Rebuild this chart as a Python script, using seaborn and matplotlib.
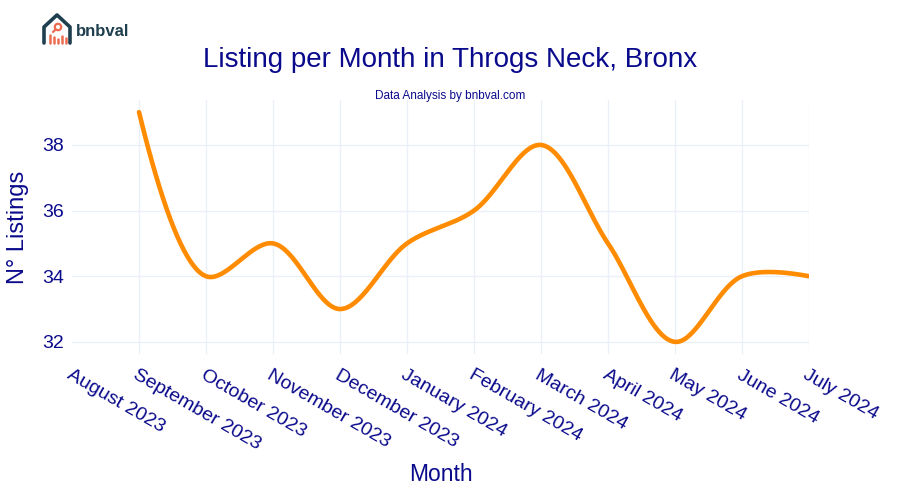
import numpy as np
import pandas as pd
import matplotlib
matplotlib.use("Agg")
import matplotlib.pyplot as plt
import seaborn as sns

# data (August has no point)
months = ["August 2023", "September 2023", "October 2023", "November 2023",
          "December 2023", "January 2024", "February 2024", "March 2024",
          "April 2024", "May 2024", "June 2024", "July 2024"]
listings = [np.nan, 39, 34, 35, 33, 35, 36, 38, 35, 32, 34, 34]

sns.set_theme(style="white")
plt.rcParams['font.family'] = ['Liberation Sans', 'DejaVu Sans']

navy = "#0a0a8c"
orange = "#ff8c00"
grid = "#ebf0f8"

fig = plt.figure(figsize=(9, 5), dpi=100)
ax = fig.add_axes([72 / 900, 1 - 354 / 500, 737 / 900, 254 / 500])

ax.set_xlim(0, len(months) - 1)
ax.set_ylim(31.63, 39.37)
ax.set_xticks(range(len(months)))
ax.set_xticklabels(months, rotation=-30, ha="left", va="top",
                   rotation_mode="anchor", fontsize=14, color=navy)
ax.set_yticks([32, 34, 36, 38])
ax.tick_params(axis="y", labelsize=14, labelcolor=navy, pad=6, length=0)
ax.tick_params(axis="x", pad=9, length=0)
ax.grid(True, color=grid, linewidth=1)
ax.get_xgridlines()[0].set_visible(False)
for s in ax.spines.values():
    s.set_visible(False)


# plotly-style spline through the points, computed in pixel space
def tangent(p0, p1, p2, s=1.0):
    d1 = p0 - p1
    d2 = p2 - p1
    d1a = np.hypot(*d1) ** 0.5
    d2a = np.hypot(*d2) ** 0.5
    num = (d2a ** 2 * d1 - d1a ** 2 * d2) * s
    den1 = 3 * d2a * (d1a + d2a)
    den2 = 3 * d1a * (d1a + d2a)
    return p1 + num / den1, p1 - num / den2


def bez(ctrl, n=40):
    t = np.linspace(0, 1, n)[:, None]
    if len(ctrl) == 3:
        a, b, c = ctrl
        return (1 - t) ** 2 * a + 2 * (1 - t) * t * b + t ** 2 * c
    a, b, c, d = ctrl
    return ((1 - t) ** 3 * a + 3 * (1 - t) ** 2 * t * b
            + 3 * (1 - t) * t ** 2 * c + t ** 3 * d)


df = pd.DataFrame({"month": months, "n": listings}).dropna()
xy = np.column_stack([df.index.values.astype(float), df["n"].values])
pts = ax.transData.transform(xy)
tans = [tangent(pts[i - 1], pts[i], pts[i + 1]) for i in range(1, len(pts) - 1)]
segs = [bez([pts[0], tans[0][0], pts[1]])]
for i in range(2, len(pts) - 1):
    segs.append(bez([pts[i - 1], tans[i - 2][1], tans[i - 1][0], pts[i]]))
segs.append(bez([pts[-2], tans[-1][1], pts[-1]]))
curve = ax.transData.inverted().transform(np.vstack(segs))
curve_df = pd.DataFrame(curve, columns=["x", "y"])

sns.lineplot(data=curve_df, x="x", y="y", sort=False, estimator=None,
             color=orange, linewidth=3.3, ax=ax)

ax.set_xlabel("Month", fontsize=16.5, color=navy, labelpad=7)
ax.set_ylabel("N° Listings", fontsize=17, color=navy, labelpad=9)

fig.text(0.5, 1 - 60 / 500, "Listing per Month in Throgs Neck, Bronx",
         ha="center", va="center", fontsize=20, color=navy)
fig.text(0.5, 1 - 96 / 500, "Data Analysis by bnbval.com",
         ha="center", va="center", fontsize=8.5, color=navy)

# logo
lg = fig.add_axes([0, 0, 1, 1], zorder=-1)
lg.set_xlim(0, 900)
lg.set_ylim(500, 0)
lg.axis("off")
dark = "#1f3f4f"
salmon = "#ec6a4f"
lg.plot([44, 44, 57, 70, 70], [43, 27, 15, 27, 43], color=dark, lw=2.6,
        solid_joinstyle="round", solid_capstyle="round")
lg.add_patch(plt.Circle((58, 27), 3.2, fill=False, color=salmon, lw=1.6))
lg.plot([55.5, 53], [29.5, 32], color=salmon, lw=1.6)
for bx, bh in zip([50, 54, 58, 62, 66], [8, 6, 4, 7, 5]):
    lg.plot([bx, bx], [43, 43 - bh], color=salmon, lw=1.8)
lg.text(76, 31, "bnbval", fontsize=12, fontweight="bold", color=dark,
        ha="left", va="center")

fig.savefig("out.png", dpi=100)
